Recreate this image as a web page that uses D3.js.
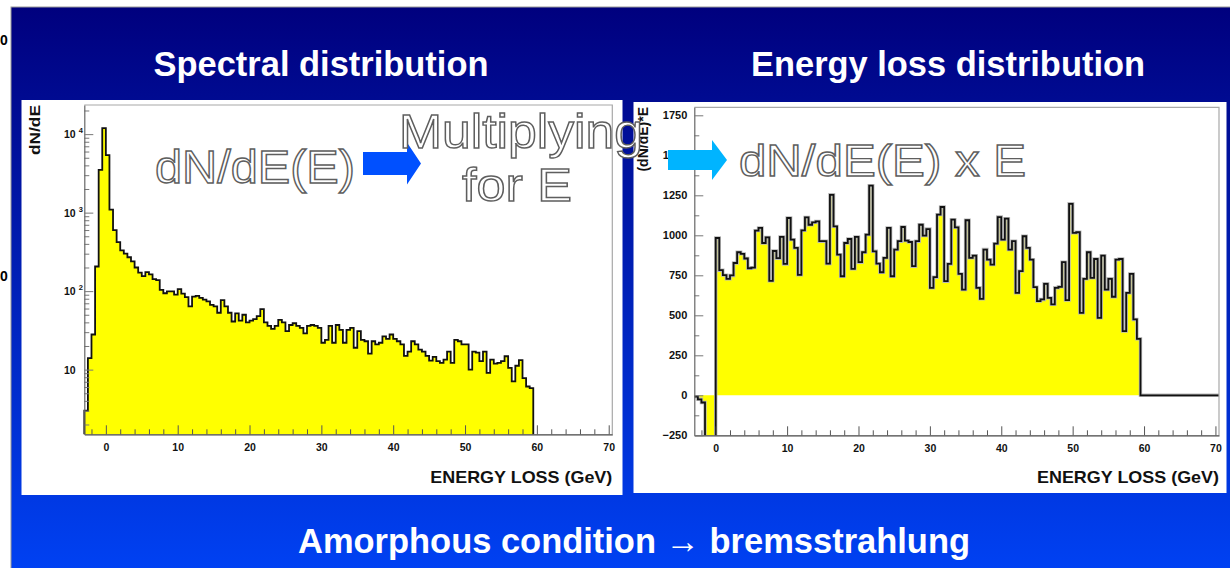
<!DOCTYPE html>
<html>
<head>
<meta charset="utf-8">
<script src="https://cdn.jsdelivr.net/npm/d3@7"></script>
<style>
  body { margin: 0; background: #fff; }
  svg { display: block; font-family: "Liberation Sans", Arial, Helvetica, sans-serif; }
</style>
</head>
<body>
<svg id="chart" width="1230" height="568"></svg>
<script>
// Histogram binning (GeV): 0.5 GeV bins starting at -3
const binWidth = 0.5;
const firstBinEdge = -3;

// Left: spectral distribution dN/dE, one value per bin from -3 to 59.5 GeV
const spectrumCounts = [
  3, 14, 28, 206, 3500, 11900,
  5400, 1090, 600, 420, 330, 300, 270, 240, 200, 172, 155, 175, 163, 142,
  138, 104, 94, 99, 99, 90, 106, 93, 84, 64, 85, 87, 82, 78, 74, 67, 64, 53, 77, 64,
  53, 41, 52, 42, 50, 40, 42, 44, 48, 59, 40, 36, 33, 36, 43, 40, 31, 37, 39, 36,
  34, 29, 36, 37, 36, 34,
  22, 24, 36, 22, 37, 32, 22, 32, 34, 19, 31, 24, 23, 16, 23, 21, 22, 26.5, 24.6, 28,
  24.6, 23, 21, 15, 17, 23, 21, 18, 17, 15, 13, 14.5, 12.8, 12.2, 13.4, 17, 12.2, 24, 23, 21,
  21, 10, 17, 16.5, 12.8, 17, 9.1, 13.4, 11.9, 12.2, 12.8, 14.8, 10.5, 7.1, 11.2, 13.2, 7.8, 6.1, 5.8
];

// Right: energy loss distribution (dN/dE) x E, same bins; empty beyond 59.5 GeV
const energyLossValues = [
  -8, -25, -45, -700, -3500, -6000,
  983, 782, 751, 728, 749, 827, 894, 884, 855, 794, 798, 1029, 1046, 952, 987, 715, 902, 857, 990, 821,
  1108, 973, 921, 753, 1031, 1112, 1066, 1081, 1087, 963, 963, 823, 1253, 1056, 879, 744, 952, 977, 790, 990,
  832, 894, 1004, 1310, 900, 823, 769, 859, 1046, 744, 911, 963, 1052, 967, 958, 807, 963, 1066, 998, 1039,
  672, 738, 1129, 1177, 713, 821, 1098, 1050, 759, 661, 1094, 859, 873, 672, 603, 911, 848, 817, 948, 1114,
  973, 1104, 911, 963, 640, 776, 994, 921, 848, 676, 589, 599, 697, 609, 568, 672, 678, 832, 595, 1197,
  1015, 1019, 515, 728, 894, 734, 852, 484, 873, 661, 728, 616, 848, 852, 401, 640, 759, 474, 353
];

const xTickValues = [0, 10, 20, 30, 40, 50, 60, 70];
const spectrumDecades = [10, 100, 1000, 10000];
const lossTickValues = [-250, 0, 250, 500, 750, 1000, 1250, 1500, 1750];

const svg = d3.select("#chart");
const defs = svg.append("defs");

// slide background, dark navy at the top to bright blue at the bottom
const grad = defs.append("linearGradient")
  .attr("id", "slideBg").attr("x1", 0).attr("y1", 0).attr("x2", 0).attr("y2", 1);
grad.append("stop").attr("offset", "0%").attr("stop-color", "#00007e");
grad.append("stop").attr("offset", "100%").attr("stop-color", "#0042f4");

svg.append("rect")
  .attr("x", 11).attr("y", 7).attr("width", 1230).attr("height", 570)
  .attr("fill", "url(#slideBg)").attr("stroke", "#9a9a9a");

// stray labels left of the slide
svg.append("text").attr("x", 0).attr("y", 45).style("font-size", "14px").style("font-weight", "bold").text("0");
svg.append("text").attr("x", 0).attr("y", 281).style("font-size", "14px").style("font-weight", "bold").text("0");

// slide titles
function title(text, x, y, len, size) {
  svg.append("text")
    .attr("x", x).attr("y", y)
    .attr("text-anchor", "middle")
    .attr("textLength", len).attr("lengthAdjust", "spacingAndGlyphs")
    .style("font-size", size + "px").style("font-weight", "bold").style("fill", "#fff")
    .text(text);
}
title("Spectral distribution", 321, 76, 335, 35);
title("Energy loss distribution", 948, 76, 394, 35);
title("Amorphous condition \u2192 bremsstrahlung", 634, 553, 672, 35);

// white panels
svg.append("rect").attr("x", 21.5).attr("y", 100).attr("width", 601).attr("height", 395).attr("fill", "#fff");
svg.append("rect").attr("x", 633.5).attr("y", 102).attr("width", 593).attr("height", 391).attr("fill", "#fff");

const bins = values => values.map((v, i) => ({ e0: firstBinEdge + i * binWidth, v }));

// common x axis (ticks inward, minor every 2 GeV)
function drawXAxis(g, x, yBase) {
  g.append("g")
    .attr("transform", `translate(0,${yBase})`)
    .call(d3.axisBottom(x).tickValues(d3.range(-2, 71, 2).filter(d => d % 10 !== 0)).tickSize(-5).tickFormat(""))
    .call(a => a.select(".domain").remove())
    .call(a => a.selectAll("line").attr("stroke", "#555"));
  g.append("g")
    .attr("transform", `translate(0,${yBase})`)
    .call(d3.axisBottom(x).tickValues(xTickValues).tickSize(-9).tickSizeOuter(0).tickPadding(9))
    .call(a => a.select(".domain").attr("stroke", "#444").attr("stroke-width", 1.2))
    .call(a => a.selectAll("line").attr("stroke", "#555"))
    .call(a => a.selectAll("text")
      .style("font-size", "10.5px").style("font-weight", "bold").style("fill", "#111")
      .style("font-family", "'Liberation Sans', Arial, sans-serif"));
}

function drawFrame(g, x, y) {
  const [x0, x1] = x.range();
  const [yb, yt] = y.range();
  g.append("path")
    .attr("d", `M${x0},${yt}H${x1}V${yb}`)
    .attr("fill", "none").attr("stroke", "#a8a8a8").attr("stroke-width", 1.2);
}

function xTitle(g, xEnd) {
  g.append("text")
    .attr("x", xEnd).attr("y", 483)
    .attr("text-anchor", "end")
    .attr("textLength", 182).attr("lengthAdjust", "spacingAndGlyphs")
    .style("font-size", "17px").style("font-weight", "bold").style("fill", "#111")
    .text("ENERGY LOSS (GeV)");
}

// ---------- left chart: dN/dE on a log scale ----------
const left = svg.append("g");
const x1 = d3.scaleLinear().domain([-3, 70.5]).range([84.3, 612.3]);
const y1 = d3.scaleLog().domain([1.5, 23500]).range([434.3, 105]);
const base1 = y1.range()[0];

const specBins = bins(spectrumCounts);
const specEnd = firstBinEdge + spectrumCounts.length * binWidth;
const specPts = specBins.map(b => [x1(b.e0), y1(b.v)]);
specPts.push([x1(specEnd), y1(spectrumCounts[spectrumCounts.length - 1])]);

left.append("path")
  .attr("d", d3.area().curve(d3.curveStepAfter).x(d => d[0]).y0(base1).y1(d => d[1])(specPts))
  .attr("fill", "#ffff00");
left.append("path")
  .attr("d", d3.line().curve(d3.curveStepAfter)([[x1(firstBinEdge), base1], ...specPts, [x1(specEnd), base1]]))
  .attr("fill", "none").attr("stroke", "#111").attr("stroke-width", 1.8);

drawFrame(left, x1, y1);
drawXAxis(left, x1, base1);

const minorLog = [];
spectrumDecades.concat([1]).forEach(d => d3.range(2, 10).forEach(m => {
  const v = d * m;
  if (v > y1.domain()[0] && v < y1.domain()[1]) minorLog.push(v);
}));
left.append("g")
  .attr("transform", `translate(${x1.range()[0]},0)`)
  .call(d3.axisLeft(y1).tickValues(minorLog).tickSize(-5).tickFormat(""))
  .call(a => a.select(".domain").remove())
  .call(a => a.selectAll("line").attr("stroke", "#777"));
left.append("g")
  .attr("transform", `translate(${x1.range()[0]},0)`)
  .call(d3.axisLeft(y1).tickValues(spectrumDecades).tickSize(-9).tickSizeOuter(0).tickFormat(""))
  .call(a => a.select(".domain").attr("stroke", "#666").attr("stroke-width", 1.2))
  .call(a => a.selectAll("line").attr("stroke", "#777"));

const logLabels = left.selectAll(".loglab").data(spectrumDecades).enter()
  .append("text").attr("class", "loglab")
  .attr("x", 64).attr("y", d => y1(d) + 4)
  .style("font-size", "10.5px").style("font-weight", "bold").style("fill", "#111");
logLabels.append("tspan").text("10");
logLabels.filter(d => d > 10).append("tspan")
  .attr("dx", 3).attr("dy", -5).style("font-size", "7.5px")
  .text(d => Math.round(Math.log10(d)));

left.append("text")
  .attr("transform", "translate(40,105) rotate(-90)")
  .attr("text-anchor", "end")
  .attr("textLength", 50).attr("lengthAdjust", "spacingAndGlyphs")
  .style("font-size", "14px").style("font-weight", "bold").style("fill", "#111")
  .text("dN/dE");
xTitle(left, x1.range()[1]);

// ---------- right chart: (dN/dE) x E, linear ----------
const right = svg.append("g");
const x2 = d3.scaleLinear().domain([-3, 70.5]).range([694.3, 1219]);
const y2 = d3.scaleLinear().domain([-250, 1800]).range([435.3, 107.3]);
const zero2 = y2(0);

defs.append("clipPath").attr("id", "clipRight")
  .append("rect")
  .attr("x", x2.range()[0]).attr("y", y2.range()[1])
  .attr("width", x2.range()[1] - x2.range()[0]).attr("height", y2.range()[0] - y2.range()[1]);

const lossBins = bins(energyLossValues);
const lossEnd = firstBinEdge + energyLossValues.length * binWidth;
const lossPts = lossBins.map(b => [x2(b.e0), y2(b.v)]);
lossPts.push([x2(lossEnd), y2(energyLossValues[energyLossValues.length - 1])]);

const histR = right.append("g").attr("clip-path", "url(#clipRight)");
histR.append("path")
  .attr("d", d3.area().curve(d3.curveStepAfter).x(d => d[0]).y0(zero2).y1(d => d[1])(lossPts))
  .attr("fill", "#ffff00");
const outlineR = d3.line().curve(d3.curveStepAfter)(
  [...lossPts, [x2(lossEnd), zero2], [x2(x2.domain()[1]), zero2]]);
histR.append("path").attr("d", outlineR)
  .attr("fill", "none").attr("stroke", "#b8b8b8").attr("stroke-width", 3.4);
histR.append("path").attr("d", outlineR)
  .attr("fill", "none").attr("stroke", "#111").attr("stroke-width", 1.8);

drawFrame(right, x2, y2);
drawXAxis(right, x2, y2.range()[0]);

right.append("g")
  .attr("transform", `translate(${x2.range()[0]},0)`)
  .call(d3.axisLeft(y2).tickValues(lossTickValues.map(d => d + 125).filter(d => d < 1800)).tickSize(-5).tickFormat(""))
  .call(a => a.select(".domain").remove())
  .call(a => a.selectAll("line").attr("stroke", "#777"));
right.append("g")
  .attr("transform", `translate(${x2.range()[0]},0)`)
  .call(d3.axisLeft(y2).tickValues(lossTickValues).tickFormat(d3.format("d"))
    .tickSize(-9).tickSizeOuter(0).tickPadding(7))
  .call(a => a.select(".domain").attr("stroke", "#666").attr("stroke-width", 1.2))
  .call(a => a.selectAll("line").attr("stroke", "#777"))
  .call(a => a.selectAll("text")
    .style("font-size", "11px").style("font-weight", "bold").style("fill", "#111")
    .style("font-family", "'Liberation Sans', Arial, sans-serif"));

right.append("text")
  .attr("transform", "translate(648,107) rotate(-90)")
  .attr("text-anchor", "end")
  .style("font-size", "14px").style("font-weight", "bold").style("fill", "#111")
  .text("(dN/dE)*E");
xTitle(right, x2.range()[1]);

// ---------- overlays: outlined captions and arrows ----------
function outlined(text, x, y, size, len, anchor) {
  svg.append("text")
    .attr("x", x).attr("y", y)
    .attr("text-anchor", anchor || "start")
    .attr("textLength", len).attr("lengthAdjust", "spacingAndGlyphs")
    .style("font-size", size + "px")
    .style("fill", "#fff").style("stroke", "#5e5e5e").style("stroke-width", 1.4)
    .text(text);
}
function arrow(x0, x1, xh, yc, shaftHalf, headHalf, color) {
  svg.append("path")
    .attr("d", `M${x0},${yc - shaftHalf}H${xh}V${yc - headHalf}L${x1},${yc}L${xh},${yc + headHalf}V${yc + shaftHalf}H${x0}Z`)
    .attr("fill", color);
}

outlined("dN/dE(E)", 155, 183, 46, 200);
arrow(363, 421, 407, 163.5, 11.5, 21, "#0050ff");
outlined("Multiplying", 399, 148, 48, 244);
outlined("for E", 517, 201, 47, 110, "middle");

arrow(668, 727, 712, 160, 10, 20, "#00b4ff");
outlined("dN/dE(E) x E", 739, 176, 44, 287);
</script>
</body>
</html>
